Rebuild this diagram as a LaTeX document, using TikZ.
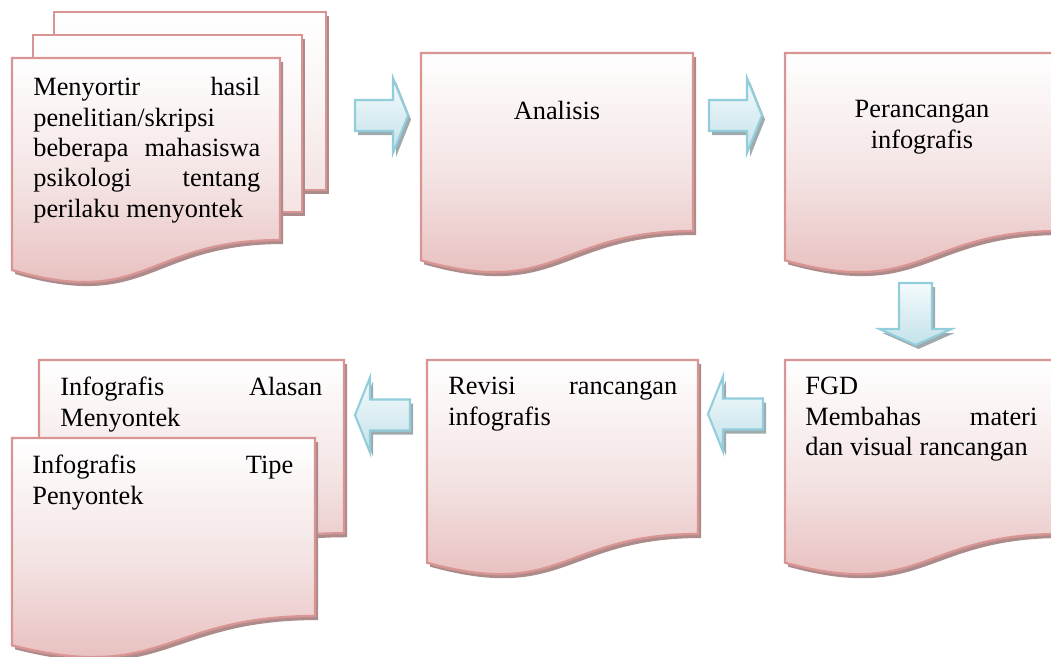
\documentclass[tikz,border=0pt]{standalone}
\usepackage{fontspec}
\setmainfont{Liberation Serif}

\definecolor{docline}{HTML}{D99594}
\definecolor{docmid}{HTML}{F4E3E3}
\definecolor{docbot}{HTML}{E5B8B7}
\definecolor{docshade}{HTML}{AD8B8B}
\definecolor{arrline}{HTML}{92CDDC}
\definecolor{arrtop}{HTML}{F4FAFC}
\definecolor{arrbot}{HTML}{C3E2EA}
\definecolor{arrshade}{HTML}{9FAAAD}

\newcommand{\boxfont}{\fontsize{15}{17.3}\selectfont\hyphenpenalty=10000}
\newcommand{\docpath}[4]{(#1,#2) -- ({#1+#3},#2) -- ({#1+#3},{#2+0.802*#4})
  .. controls ({#1+0.5*#3},{#2+0.802*#4}) and ({#1+0.5*#3},{#2+1.107*#4}) .. (#1,{#2+0.934*#4}) -- cycle}
\newcommand{\docbox}[4]{%
  \fill[docshadow, shift={(3,4)}] \docpath{#1}{#2}{#3}{#4};
  \draw[docfill] \docpath{#1}{#2}{#3}{#4};}
\newcommand{\sheet}[4]{%
  \fill[docshadow, shift={(3,4)}] (#1,#2) rectangle (#3,#4);
  \draw[docfill, bottom color=docmid, middle color=white!60!docmid] (#1,#2) rectangle (#3,#4);}
\newcommand{\rpath}[3]{([shift={(#2,{#3-15.5})}]#1) -- ++(38,0) -- ++(0,-22) -- ++(15,37.5) -- ++(-15,37.5) -- ++(0,-22) -- ++(-38,0) -- cycle}
\newcommand{\lpath}[3]{([shift={(#2,#3)}]#1) -- ++(15,-37.5) -- ++(0,22) -- ++(40,0) -- ++(0,31) -- ++(-40,0) -- ++(0,22) -- cycle}
\newcommand{\dpath}[3]{([shift={({#2-16.5},#3)}]#1) -- ++(33,0) -- ++(0,46) -- ++(19.5,0) -- ++(-36,16) -- ++(-36,-16) -- ++(19.5,0) -- cycle}
\newcommand{\rarrow}[1]{\fill[arrshadow] \rpath{#1}{3}{4}; \draw[arrfill] \rpath{#1}{0}{0};}
\newcommand{\larrow}[1]{\fill[arrshadow] \lpath{#1}{3}{4}; \draw[arrfill] \lpath{#1}{0}{0};}
\newcommand{\darrow}[1]{\fill[arrshadow] \dpath{#1}{3}{4}; \draw[arrfill] \dpath{#1}{0}{0};}

\begin{document}
\begin{tikzpicture}[x=0.02cm, y=-0.02cm,
    docshadow/.style={fill=docshade},
    docfill/.style={draw=docline, line width=1.3pt, top color=white, bottom color=docbot, middle color=docmid},
    arrshadow/.style={fill=arrshade},
    arrfill/.style={draw=arrline, line width=1.2pt, top color=arrtop, bottom color=arrbot},
    txt/.style={inner sep=0pt, anchor=north west, align=justify, font=\boxfont}]
        \useasboundingbox (0,0) rectangle (1051,656);

        \sheet{54}{12}{326}{190}
        \sheet{33}{35}{302}{212}
        \docbox{12}{58}{268}{227}
        \node (m1) [txt, text width=4.54cm] at (33,77) {Menyortir hasil\linebreak penelitian/skripsi\linebreak beberapa mahasiswa\linebreak psikologi tentang\linebreak perilaku menyontek};

        \docbox{421}{53}{272}{222}
        \node (an) [txt, anchor=north, align=center] at (557,101) {Analisis};

        \docbox{785}{53}{274}{222}
        \node (pr) [txt, anchor=north, align=center] at (922,100) {Perancangan\\infografis};

        \docbox{785}{360}{274}{217}
        \node (fgd) [txt, text width=4.64cm] at (805,377) {FGD\\Membahas materi\linebreak dan visual rancangan};

        \docbox{427}{360}{271}{217}
        \node (rv) [txt, text width=4.58cm] at (448,377) {Revisi rancangan\linebreak infografis};

        \docbox{39}{360}{305}{216}
        \node (ia) [txt, text width=5.24cm] at (60,377) {Infografis Alasan\linebreak Menyontek};
        \docbox{12}{438}{303}{222}
        \node (it) [txt, text width=5.22cm] at (32,455) {Infografis Tipe\linebreak Penyontek};

        \coordinate (a1) at (355,115.5);
        \coordinate (a2) at (709,115.5);
        \coordinate (a3) at (915.5,283);
        \coordinate (a4) at (708,414);
        \coordinate (a5) at (355,415);
        \rarrow{a1}
        \rarrow{a2}
        \darrow{a3}
        \larrow{a4}
        \larrow{a5}
    \end{tikzpicture}
\end{document}
